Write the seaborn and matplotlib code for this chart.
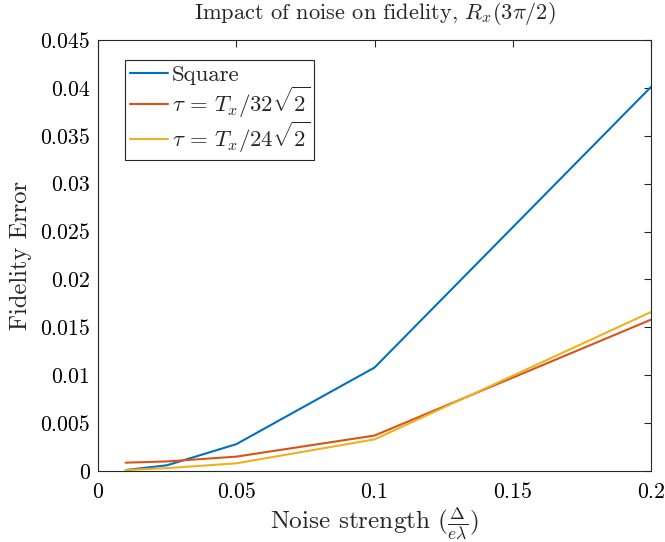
import matplotlib
matplotlib.use("Agg")
import matplotlib.pyplot as plt
import seaborn as sns
import pandas as pd

noise = [0.01, 0.025, 0.05, 0.1, 0.2]
square = [0.0001, 0.0006, 0.0028, 0.0108, 0.0401]
tau32 = [0.00087, 0.0010, 0.0015, 0.0037, 0.0158]
tau24 = [0.0001, 0.0003, 0.0008, 0.0033, 0.0166]
labels = ["Square", r"$\tau\,=\,T_x/32\sqrt{2}$", r"$\tau\,=\,T_x/24\sqrt{2}$"]
colors = ["#0072BD", "#D95319", "#EDB120"]
xticks = [0, 0.05, 0.1, 0.15, 0.2]
xticklabels = ["0", "0.05", "0.1", "0.15", "0.2"]
yticks = [0, 0.005, 0.01, 0.015, 0.02, 0.025, 0.03, 0.035, 0.04, 0.045]
yticklabels = ["0", "0.005", "0.01", "0.015", "0.02", "0.025", "0.03", "0.035", "0.04", "0.045"]
title = r"Impact of noise on fidelity, $R_x(3\pi/2)$"
xlabel = r"Noise strength $(\frac{\Delta}{e\lambda})$"
ylabel = "Fidelity Error"

rows = []
for lab, vals in zip(labels, [square, tau32, tau24]):
    for x, y in zip(noise, vals):
        rows.append({"noise": x, "err": y, "series": lab})
df = pd.DataFrame(rows)

sns.set_style("white")
plt.rcParams["font.family"] = "serif"
plt.rcParams["font.serif"] = ["cmr10", "DejaVu Serif"]
plt.rcParams["mathtext.fontset"] = "cm"
plt.rcParams["axes.unicode_minus"] = False

W, H = 665, 542
fig = plt.figure(figsize=(W/100, H/100), dpi=100)
renderer = fig.canvas.get_renderer()


def size_for(s, target_w, base=15.0):
    t = fig.text(0, 0, s, fontsize=base)
    w = t.get_window_extent(renderer).width
    t.remove()
    return base * target_w / w


L, R, T, B = 98, 651, 40, 471
ax = fig.add_axes([L/W, 1-B/H, (R-L)/W, (B-T)/H])
sns.lineplot(data=df, x="noise", y="err", hue="series", hue_order=labels,
             palette=colors, linewidth=1.5, ax=ax, estimator=None, sort=False)

tick_fs = size_for("0.045", 50)
title_fs = size_for(title, 362)
xlab_fs = size_for("Noise strength", 160)
ylab_fs = size_for(ylabel, 150)
leg_fs = size_for("Square", 68)

ax.set_xlim(0, 0.2)
ax.set_ylim(0, 0.045)
ax.set_xticks(xticks)
ax.set_xticklabels(xticklabels, fontsize=tick_fs)
ax.set_yticks(yticks)
ax.set_yticklabels(yticklabels, fontsize=tick_fs)
ax.tick_params(direction="in", length=5, width=0.8, top=True, right=True,
               labeltop=False, labelright=False, colors="#262626", labelcolor="black")
ax.tick_params(axis="y", pad=5.8)
ax.tick_params(axis="x", pad=8.0)
for s in ax.spines.values():
    s.set_color("#262626")
    s.set_linewidth(0.8)
    s.set_visible(True)

ax.set_title(title, fontsize=title_fs, pad=21*0.72)
ax.title.set_va("baseline")

ax.set_xlabel(xlabel, fontsize=xlab_fs)
ax.xaxis.label.set_va("baseline")
ax.xaxis.set_label_coords(0.5, -(529-B)/(B-T))

ax.set_ylabel(ylabel, fontsize=ylab_fs)
ax.yaxis.label.set_va("baseline")
ax.yaxis.set_label_coords(-(L-27)/(R-L), 0.5)

leg_px = leg_fs * 100 / 72
leg = ax.legend(loc="upper left", bbox_to_anchor=((125-L)/(R-L), (B-60)/(B-T)),
                fontsize=leg_fs, frameon=True, fancybox=False, framealpha=1,
                edgecolor="#262626", handlelength=38/leg_px, handletextpad=4/leg_px,
                borderpad=0.2, labelspacing=0.0, borderaxespad=0)
leg.get_frame().set_linewidth(0.8)

fig.savefig("out.png", dpi=100)
